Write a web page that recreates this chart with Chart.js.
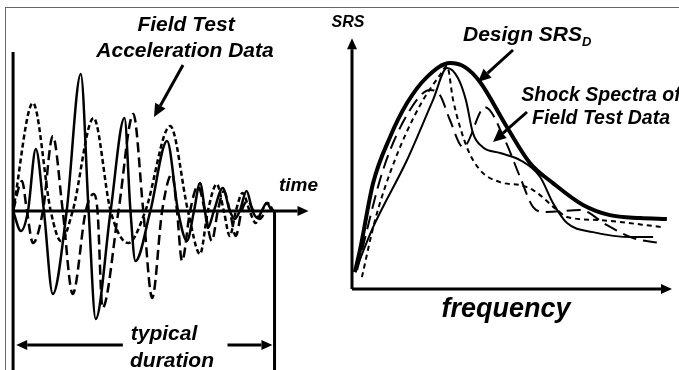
<!DOCTYPE html>
<html>
<head>
<meta charset="utf-8">
<script src="https://cdn.jsdelivr.net/npm/chart.js@4"></script>
<style>
body { margin: 0; background: #fff; }
#wrap { position: relative; width: 679px; height: 370px; overflow: hidden; }
#frame { position: absolute; left: 5px; top: 7px; width: 700px; height: 400px;
	border-top: 1px solid #666; border-left: 1px solid #666; }
canvas { position: absolute; top: 0; }
</style>
</head>
<body>
<div id="wrap">
	<div id="frame"></div>
	<canvas id="timeChart" width="325" height="370" style="left:0"></canvas>
	<canvas id="srsChart" width="354" height="370" style="left:325px"></canvas>
</div>
<script>
// --- field test acceleration histories (time 0..100 = typical duration) ---
const timeSolid = [0, 3.0, 5.7, 8.7, 11.8, 15.2, 20.5, 25.9, 28.9, 31.6, 37.3, 42.6, 44.9, 46.8, 52.5, 58.9, 63.1, 66.5, 69.2, 71.5, 73.4, 74.5, 76.8, 80.2, 82.9, 84.8, 86.7, 89.3, 91.6, 93.5, 95.1, 97.0, 98.9];
const accSolid  = [0, -20, 0, 62, 0, -83, 0, 137, 0, -108, 0, 93, 0, -50, 0, 70, 0, -30, 0, 28, 0, -17, 0, 23, 0, -8, 0, 20, 0, -7, 0, 8, 0];

const timeLong = [0, 3.4, 5.3, 7.6, 11.4, 15.2, 19.0, 22.8, 27.8, 30.8, 32.3, 34.2, 40.3, 46.0, 49.8, 53.2, 57.0, 60.8, 62.7, 64.6, 67.7, 70.7, 73.4, 76.0, 78.3, 80.6, 82.9, 85.2, 87.4, 89.7, 92.0, 94.3, 96.6];
const accLong  = [0, 30, 0, -32, 0, 75, 0, -83, 0, 17, 0, -97, 0, 97, 0, -87, 0, 37, 0, -50, 0, 25, 0, -30, 0, 20, 0, -25, 0, 10, 0, -8, 0];

const timeShort = [0, 7.6, 14.4, 18.3, 22.8, 30.8, 37.3, 44.1, 50.6, 60.1, 66.9, 71.5, 74.5, 77.9, 80.6, 82.9, 85.2, 87.8, 90.5, 92.8, 95.1, 97.3, 99.6];
const accShort  = [0, 108, 0, -30, 0, 93, 0, -32, 0, 85, 0, -43, 0, 27, 0, -25, 0, 18, 0, -12, 0, 8, 0];

// --- shock response spectra (frequency 0..100, SRS peak = 100) ---
const freqDesign = [0.9, 2.5, 6.6, 11.9, 17.2, 23.4, 30.6, 35.3, 40, 48.4, 55.6, 62.8, 72.2, 80.6, 90, 98.4];
const srsDesign  = [7.5, 17.3, 46.9, 67.3, 82.3, 93.8, 100, 98.2, 91.6, 71.7, 55.8, 46.9, 37.2, 32.7, 31.4, 31];

const freqSolid = [0.9, 6.6, 17.2, 25.3, 29.7, 33.1, 35.6, 37.8, 40.9, 46.3, 52.5, 58.8, 62.8, 67.2, 75.3, 87.8, 94.1];
const srsSolid  = [7.5, 27.4, 57.1, 83.6, 97.8, 93.4, 83.6, 69.0, 62.8, 60.2, 57.1, 49.6, 38.1, 29.2, 25.2, 23.0, 23.0];

const freqLong = [1.6, 9.7, 18.1, 24.4, 27.5, 30.6, 34.7, 41.6, 47.8, 52.5, 56.6, 60.3, 71.3, 79.7, 87.8, 96.3];
const srsLong  = [8.4, 52.7, 79.2, 88.1, 85.8, 74.8, 62.8, 80.5, 65.9, 49.6, 36.3, 34.1, 35.0, 28.3, 22.6, 20.4];

const freqShort = [3.1, 7.2, 13.4, 21.3, 27.5, 29.7, 31.6, 35.9, 40, 46.3, 52.5, 56.6, 64.1, 67.2, 77.5, 97.2];
const srsShort  = [5.3, 30.5, 57.1, 81.4, 94.7, 98.7, 83.6, 62.8, 52.7, 47.3, 46.0, 43.8, 35.0, 31.9, 30.5, 27.4];

function to_points(xs, ys)
{
	return xs.map((x, i) => ({ x: x, y: ys[i] }));
}

function font_bi(size)
{
	return 'italic bold ' + size + 'px "Liberation Sans", Arial, sans-serif';
}

function draw_line(ctx, x1, y1, x2, y2)
{
	ctx.beginPath();
	ctx.moveTo(x1, y1);
	ctx.lineTo(x2, y2);
	ctx.stroke();
}

// line from (x1,y1) to the tip (x2,y2) with a filled head
function draw_arrow(ctx, x1, y1, x2, y2, len, half)
{
	const ang = Math.atan2(y2 - y1, x2 - x1);
	const bx = x2 - Math.cos(ang) * len, by = y2 - Math.sin(ang) * len;
	draw_line(ctx, x1, y1, bx, by);
	ctx.beginPath();
	ctx.moveTo(x2, y2);
	ctx.lineTo(bx + Math.sin(ang) * half, by - Math.cos(ang) * half);
	ctx.lineTo(bx - Math.sin(ang) * half, by + Math.cos(ang) * half);
	ctx.closePath();
	ctx.fill();
}

function base_options(xMin, xMax, yMin, yMax)
{
	return {
		responsive: false,
		animation: false,
		layout: { padding: 0 },
		scales: {
			x: { type: 'linear', min: xMin, max: xMax, display: false },
			y: { type: 'linear', min: yMin, max: yMax, display: false }
		},
		plugins: { legend: { display: false }, tooltip: { enabled: false } },
		elements: {
			point: { radius: 0 },
			line: { cubicInterpolationMode: 'monotone', borderColor: '#000', borderWidth: 2.5 }
		}
	};
}

const timeDecor = {
	id: 'timeDecor',
	afterDraw(chart) {
		const ctx = chart.ctx, X = chart.scales.x, Y = chart.scales.y;
		const px = v => X.getPixelForValue(v), py = v => Y.getPixelForValue(v);
		ctx.save();
		ctx.strokeStyle = '#000';
		ctx.fillStyle = '#000';
		ctx.lineWidth = 3;
		// axes and end-of-duration marker
		draw_line(ctx, px(0), py(159), px(0), py(-160));
		draw_arrow(ctx, px(0), py(0), px(113), py(0), 11, 5);
		draw_line(ctx, px(100), py(0), px(100), py(-160));
		// duration arrows, broken for the label
		draw_arrow(ctx, px(42), py(-134), px(1.2), py(-134), 11, 5);
		draw_arrow(ctx, px(82), py(-134), px(99.2), py(-134), 11, 5);
		// callout
		draw_arrow(ctx, 183, 65, 154, 117, 13, 6);

		ctx.textAlign = 'center';
		ctx.textBaseline = 'alphabetic';
		ctx.font = font_bi(21);
		ctx.fillText('Field Test', 186, 31);
		ctx.fillText('Acceleration Data', 185, 57);
		ctx.fillText('typical', 164, 340);
		ctx.fillText('duration', 172, 367);
		ctx.textAlign = 'left';
		ctx.font = font_bi(19);
		ctx.fillText('time', 279, 191);
		ctx.restore();
	}
};

const srsDecor = {
	id: 'srsDecor',
	afterDraw(chart) {
		const ctx = chart.ctx, X = chart.scales.x, Y = chart.scales.y;
		const px = v => X.getPixelForValue(v), py = v => Y.getPixelForValue(v);
		ctx.save();
		ctx.strokeStyle = '#000';
		ctx.fillStyle = '#000';
		ctx.lineWidth = 3;
		draw_arrow(ctx, px(0), py(0), px(0), py(111), 11, 5);
		draw_arrow(ctx, px(0), py(0), px(100), py(0), 11, 5);
		// callouts (canvas starts at page x 325)
		draw_arrow(ctx, 188, 50, 153, 82, 13, 6);
		draw_arrow(ctx, 202, 112, 168, 142, 13, 6);

		ctx.textBaseline = 'alphabetic';
		ctx.textAlign = 'center';
		ctx.font = font_bi(16);
		ctx.fillText('SRS', 23, 27);
		ctx.font = font_bi(19.5);
		ctx.fillText('Shock Spectra of', 276, 101);
		ctx.fillText('Field Test Data', 276, 124);
		ctx.font = font_bi(27);
		ctx.fillText('frequency', 181, 317);
		ctx.textAlign = 'left';
		ctx.font = font_bi(21);
		ctx.fillText('Design SRS', 138, 41);
		const w = ctx.measureText('Design SRS').width;
		ctx.font = font_bi(13);
		ctx.fillText('D', 138 + w, 46);
		ctx.restore();
	}
};

function chart_create_time(canvasId)
{
	return new Chart(canvasId, {
		type: 'line',
		data: {
			datasets: [
				{ data: to_points(timeLong, accLong), borderDash: [10, 5] },
				{ data: to_points(timeShort, accShort), borderDash: [5, 3] },
				{ data: to_points(timeSolid, accSolid) }
			]
		},
		options: base_options(-5, 119.3, -159, 211),
		plugins: [timeDecor]
	});
}

function chart_create_srs(canvasId)
{
	return new Chart(canvasId, {
		type: 'line',
		data: {
			datasets: [
				{ data: to_points(freqLong, srsLong), borderDash: [14, 7], borderWidth: 2 },
				{ data: to_points(freqShort, srsShort), borderDash: [5, 4], borderWidth: 2 },
				{ data: to_points(freqSolid, srsSolid), borderWidth: 2 },
				{ data: to_points(freqDesign, srsDesign), borderWidth: 4 }
			]
		},
		options: base_options(-8.4375, 102.19, -35.8, 127.9),
		plugins: [srsDecor]
	});
}

chart_create_time('timeChart');
chart_create_srs('srsChart');
</script>
</body>
</html>
